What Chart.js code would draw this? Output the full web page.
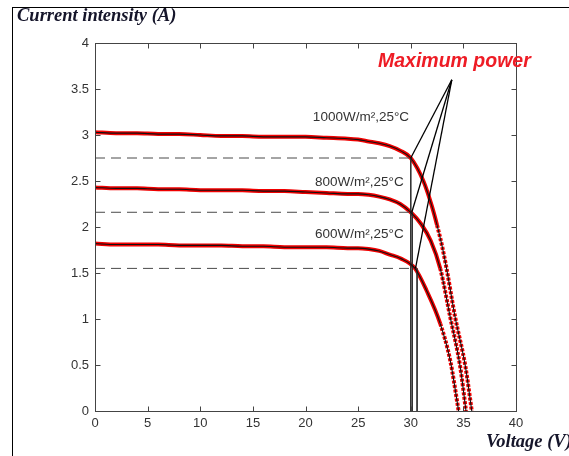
<!DOCTYPE html>
<html>
<head>
<meta charset="utf-8">
<script src="https://cdn.jsdelivr.net/npm/chart.js@4.4.1/dist/chart.umd.min.js"></script>
<style>
  body { margin: 0; background: #fff; }
  #wrap { position: relative; width: 569px; height: 456px; }
  #frame { position: absolute; left: 12px; top: 7px; right: 0; bottom: 0;
           border-left: 1px solid #000; border-top: 1px solid #000; pointer-events: none; }
</style>
</head>
<body>
<div id="wrap">
  <canvas id="ivChart" width="569" height="456"></canvas>
  <div id="frame"></div>
</div>
<script>
// I-V curves of the PV panel
var volt1000 = [0, 2, 4, 6, 8, 10, 12, 14, 16, 18, 20, 22, 24, 25, 26, 27, 28, 29, 30, 31.2, 32, 32.5, 33, 33.4, 34.2, 35.2, 35.8];
var amp1000  = [3.03, 3.02, 3.02, 3.01, 3.01, 3.00, 2.99, 2.99, 2.98, 2.98, 2.98, 2.97, 2.96, 2.95, 2.93, 2.91, 2.88, 2.83, 2.75, 2.50, 2.23, 2.02, 1.78, 1.55, 1.03, 0.48, 0.0];

var volt800 = [0, 2, 4, 6, 8, 10, 12, 14, 16, 18, 20, 22, 24, 25, 26, 27, 28, 29, 30, 31, 31.9, 32.8, 33.75, 34.7, 35.25];
var amp800  = [2.43, 2.42, 2.42, 2.41, 2.41, 2.40, 2.40, 2.40, 2.39, 2.39, 2.38, 2.37, 2.36, 2.36, 2.35, 2.33, 2.30, 2.25, 2.16, 2.03, 1.85, 1.55, 1.02, 0.48, 0.0];

var volt600 = [0, 2, 4, 6, 8, 10, 12, 14, 16, 18, 20, 22, 24, 25, 26, 27, 28, 29, 30.4, 31.5, 32.8, 33.75, 34.55];
var amp600  = [1.82, 1.81, 1.81, 1.81, 1.80, 1.80, 1.80, 1.79, 1.79, 1.78, 1.78, 1.78, 1.77, 1.77, 1.76, 1.74, 1.70, 1.66, 1.55, 1.31, 0.95, 0.55, 0.0];

// maximum power points and the callout apex
var mppVolt = [30.0, 30.1, 30.45];
var mppAmp  = [2.75, 2.16, 1.55];
var dropVolt = [30.0, 30.15, 30.6];
var calloutVolt = 33.9;
var calloutAmp  = 3.6;

var curveLabels = ["1000W/m\u00b2,25\u00b0C", "800W/m\u00b2,25\u00b0C", "600W/m\u00b2,25\u00b0C"];
var labelVolt = [20.7, 20.9, 20.9];
var labelAmp  = [3.19, 2.49, 1.92];

var xTicks = [0, 5, 10, 15, 20, 25, 30, 35, 40];
var yTicks = [0, 0.5, 1, 1.5, 2, 2.5, 3, 3.5, 4];

function pts(xs, ys) {
    return xs.map(function (x, i) { return { x: x, y: ys[i] }; });
}

var curves = [pts(volt1000, amp1000), pts(volt800, amp800), pts(volt600, amp600)];
var datasets = [];

curves.forEach(function (c) {
    datasets.push({
        data: c, borderColor: '#111', borderWidth: 1.1, pointRadius: 0,
        showLine: true, cubicInterpolationMode: 'monotone', order: 0
    });
    datasets.push({
        data: c, borderColor: '#f00000', borderWidth: 4, pointRadius: 0,
        showLine: true, cubicInterpolationMode: 'monotone', order: 5,
        segment: {
            borderDash: function (ctx) { return ctx.p0.parsed.x >= 32.3 ? [3, 1.5] : undefined; }
        }
    });
});

for (var i = 0; i < mppVolt.length; i++) {
    // dashed current level
    datasets.push({
        data: [{ x: 0, y: mppAmp[i] }, { x: mppVolt[i], y: mppAmp[i] }],
        borderColor: '#4a4a4a', borderWidth: 1, borderDash: [10, 6],
        pointRadius: 0, showLine: true, order: 3
    });
    // drop to the voltage axis
    datasets.push({
        data: [{ x: dropVolt[i], y: mppAmp[i] }, { x: dropVolt[i], y: 0 }],
        borderColor: '#333', borderWidth: 1, pointRadius: 0, showLine: true, order: 3
    });
    // callout line
    datasets.push({
        data: [{ x: calloutVolt, y: calloutAmp }, { x: mppVolt[i], y: mppAmp[i] }],
        borderColor: '#000', borderWidth: 1.3, pointRadius: 0, showLine: true, order: 1
    });
}

var boxPlugin = {
    id: 'matlabBox',
    afterDraw: function (chart) {
        var ctx = chart.ctx, a = chart.chartArea;
        var xs = chart.scales.x, ys = chart.scales.y;
        var l = Math.round(a.left) + 0.5, r = Math.round(a.right) + 0.5;
        var t = Math.round(a.top) + 0.5, b = Math.round(a.bottom) + 0.5;
        ctx.save();
        ctx.strokeStyle = '#444';
        ctx.lineWidth = 1;
        ctx.strokeRect(l, t, r - l, b - t);
        ctx.beginPath();
        xTicks.forEach(function (v) {
            var px = Math.round(xs.getPixelForValue(v)) + 0.5;
            ctx.moveTo(px, b); ctx.lineTo(px, b - 5);
            ctx.moveTo(px, t); ctx.lineTo(px, t + 5);
        });
        yTicks.forEach(function (v) {
            var py = Math.round(ys.getPixelForValue(v)) + 0.5;
            ctx.moveTo(l, py); ctx.lineTo(l + 5, py);
            ctx.moveTo(r, py); ctx.lineTo(r - 5, py);
        });
        ctx.stroke();

        // curve labels
        ctx.fillStyle = '#333';
        ctx.font = '13.5px "Liberation Sans", Arial, sans-serif';
        ctx.textBaseline = 'middle';
        ctx.textAlign = 'left';
        curveLabels.forEach(function (s, i) {
            ctx.fillText(s, xs.getPixelForValue(labelVolt[i]), ys.getPixelForValue(labelAmp[i]));
        });

        // callout title
        ctx.fillStyle = '#ee1c25';
        ctx.font = 'italic bold 19.5px "Liberation Sans", Arial, sans-serif';
        ctx.textBaseline = 'alphabetic';
        ctx.fillText('Maximum power', 378, 67);

        // axis titles
        ctx.fillStyle = '#15152a';
        ctx.font = 'italic bold 18.5px "Liberation Serif", "Times New Roman", serif';
        ctx.fillText('Current intensity (A)', 17, 21);
        ctx.fillText('Voltage (V)', 486, 447);
        ctx.restore();
    }
};

var tickFont = { family: '"Liberation Sans", Arial, sans-serif', size: 13 };
function plainLabel(v) { return String(v); }

var ivChart = new Chart(document.getElementById('ivChart'), {
    type: 'scatter',
    data: { datasets: datasets },
    options: {
        responsive: false,
        animation: false,
        devicePixelRatio: 1,
        layout: { padding: { left: 55, right: 53, top: 43, bottom: 20 } },
        plugins: { legend: { display: false }, tooltip: { enabled: false } },
        scales: {
            x: {
                type: 'linear', min: 0, max: 40,
                afterBuildTicks: function (s) { s.ticks = xTicks.map(function (v) { return { value: v }; }); },
                afterFit: function (s) { s.height = 25; },
                grid: { display: false, drawTicks: false },
                border: { display: false },
                ticks: { color: '#333', font: tickFont, padding: 5, maxRotation: 0, callback: plainLabel }
            },
            y: {
                type: 'linear', min: 0, max: 4,
                afterBuildTicks: function (s) { s.ticks = yTicks.map(function (v) { return { value: v }; }); },
                afterFit: function (s) { s.width = 40; },
                grid: { display: false, drawTicks: false },
                border: { display: false },
                ticks: { color: '#333', font: tickFont, padding: 6, callback: plainLabel }
            }
        }
    },
    plugins: [boxPlugin]
});
</script>
</body>
</html>
